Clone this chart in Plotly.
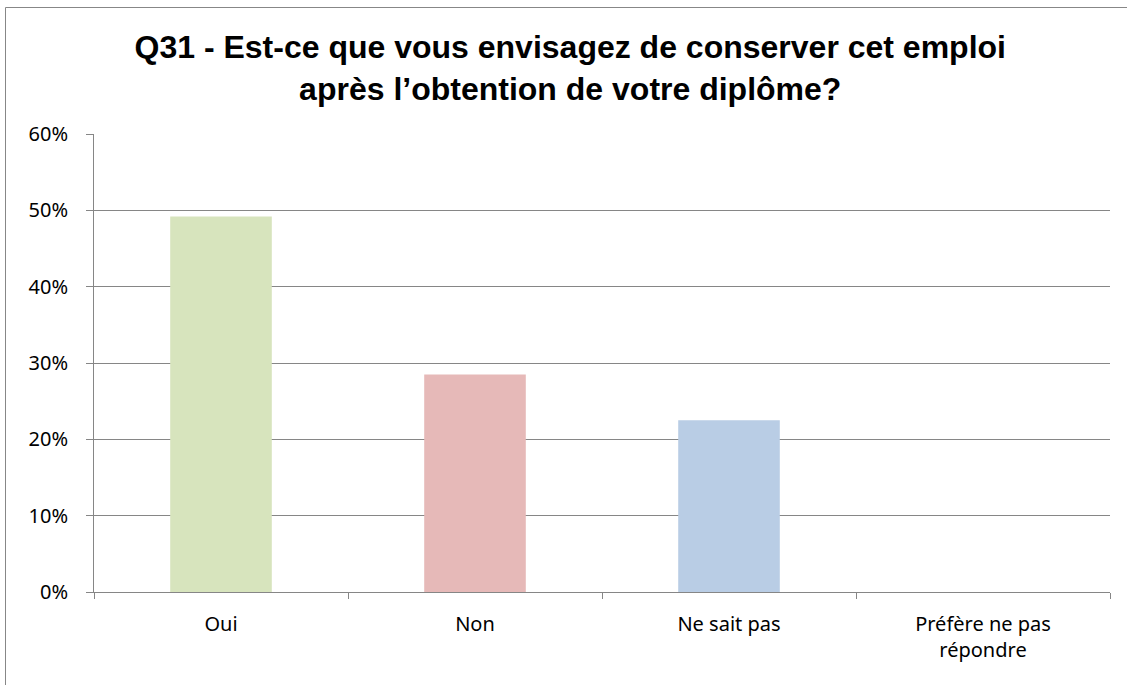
import plotly.graph_objects as go

categories = ["Oui", "Non", "Ne sait pas", "Préfère ne pas<br>répondre"]
values = [0.492, 0.285, 0.225, 0.0]
colors = ["#D7E4BD", "#E6B9B8", "#B9CDE5", "#CCC1DA"]
y_ticks = [0, 0.1, 0.2, 0.3, 0.4, 0.5, 0.6]
y_labels = ["0%", "10%", "20%", "30%", "40%", "50%", "60%"]
title = "Q31 - Est-ce que vous envisagez de conserver cet emploi<br>après l’obtention de votre diplôme?"

W, H = 1127, 685
L, R, T, B = 94, 17, 134, 93
pw, ph = W - L - R, H - T - B

fig = go.Figure(go.Bar(x=categories, y=values, marker=dict(color=colors, line=dict(width=0)), width=0.4))

def px_x(x):
    return (x - L) / pw

def px_y(y):
    return (H - B - y) / ph

fig.add_shape(type="rect", xref="paper", yref="paper",
              x0=px_x(5.5), x1=px_x(1140), y0=px_y(700), y1=px_y(7.5),
              line=dict(color="#878787", width=1), fillcolor="rgba(0,0,0,0)", layer="below")

fig.update_layout(
    width=W, height=H,
    margin=dict(l=L, r=R, t=T, b=B),
    paper_bgcolor="white", plot_bgcolor="white",
    showlegend=False,
    title=dict(text="<b>" + title + "</b>", x=0.506, xanchor="center", y=1 - 58 / H, yanchor="middle",
               font=dict(family="Liberation Sans, Arial", size=32, color="black")),
    font=dict(family="Noto Sans, Open Sans", size=20, color="black"),
)
fig.update_xaxes(
    type="category", tickson="boundaries", ticks="outside", ticklen=6, tickcolor="#868686",
    showline=True, linecolor="#868686", linewidth=1, showgrid=False, ticklabelstandoff=14,
    tickfont=dict(family="Noto Sans", size=20, color="black"),
)
fig.update_yaxes(
    range=[0, 0.6], tickvals=y_ticks, ticktext=y_labels, ticks="outside", ticklen=7, tickcolor="#868686",
    showline=True, linecolor="#868686", linewidth=1, showgrid=True, gridcolor="#868686", gridwidth=1,
    zeroline=False, ticklabelstandoff=14,
    tickfont=dict(family="Noto Sans", size=20, color="black"),
)
fig.write_html("out.html", config={"displayModeBar": False},
               post_script="document.body.style.margin='0';")
